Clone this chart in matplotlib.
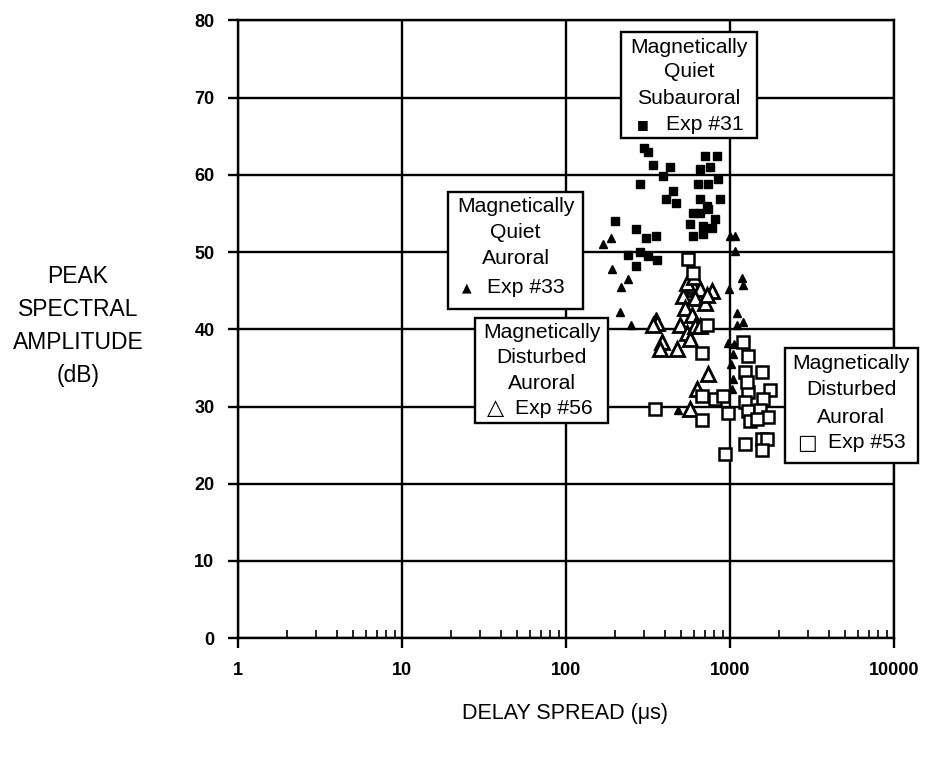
import numpy as np
import matplotlib.pyplot as plt
from matplotlib.patches import Rectangle
from matplotlib.ticker import LogLocator, FixedLocator, NullFormatter

plt.rcParams['font.family'] = ['Liberation Sans', 'DejaVu Sans']

# Exp #31 - magnetically quiet subauroral (filled squares)
x31 = [316, 339, 431, 390, 283, 449, 407, 469, 199, 267, 307, 354, 239, 283, 316,
       267, 360, 704, 834, 656, 755, 845, 638, 734, 869, 656, 720, 595, 656, 734,
       810, 570, 684, 777, 595, 684, 300]
y31 = [62.9, 61.3, 61.0, 59.9, 58.8, 57.9, 56.9, 56.4, 54.0, 53.0, 51.8, 52.1, 49.6, 50.0, 49.5,
       48.2, 49.0, 62.5, 62.5, 60.8, 61.0, 59.4, 58.8, 58.8, 56.9, 56.9, 56.0, 55.1, 55.1, 55.6,
       54.3, 53.6, 53.4, 53.1, 52.1, 52.3, 63.5]

# Exp #33 - magnetically quiet auroral (filled triangles)
x33 = [168, 188, 191, 216, 239, 213, 249, 354, 482, 1000, 1072, 1072, 986, 1183, 1200,
       1104, 1200, 1104, 972, 1058, 1043, 1043, 1029, 1014]
y33 = [51.0, 51.8, 47.8, 45.5, 46.5, 42.2, 40.6, 41.7, 29.6, 52.1, 52.1, 50.1, 45.2, 46.6, 45.7,
       42.1, 41.0, 40.6, 38.2, 38.1, 36.8, 33.6, 32.3, 35.5]

# Exp #56 - magnetically disturbed auroral (open triangles)
x56 = [359, 339, 385, 374, 475, 554, 595, 656, 777, 517, 612, 704, 532, 587, 496,
       547, 612, 656, 570, 734, 629, 570, 547, 600, 724]
y56 = [40.8, 40.6, 38.4, 37.5, 37.4, 45.2, 45.6, 45.2, 44.9, 44.3, 44.0, 43.4, 42.7, 41.9, 40.6,
       39.5, 40.4, 40.4, 38.8, 34.2, 32.3, 29.7, 46.0, 46.8, 44.5]

# Exp #53 - magnetically disturbed auroral (open squares)
x53 = [554, 595, 724, 675, 1200, 1288, 1233, 1567, 1754, 1288, 1589, 1233, 675, 810, 906,
       349, 972, 1288, 1524, 1706, 1324, 1461, 675, 933, 1233, 1567, 1681, 1567, 1271]
y53 = [49.1, 47.3, 40.6, 36.9, 38.4, 36.5, 34.5, 34.5, 32.2, 31.9, 31.0, 30.6, 31.3, 31.0, 31.3,
       29.7, 29.1, 29.4, 29.6, 28.7, 28.1, 28.4, 28.2, 23.9, 25.1, 25.8, 25.8, 24.4, 33.2]

x_ticks = [1, 10, 100, 1000, 10000]
x_tick_labels = ['1', '10', '100', '1000', '10000']
y_ticks = [0, 10, 20, 30, 40, 50, 60, 70, 80]

fig = plt.figure(figsize=(9.25, 7.57), dpi=100)
ax = fig.add_axes([0.2573, 0.157, 0.7092, 0.816])

ax.set_xscale('log')
ax.set_xlim(1, 10000)
ax.set_ylim(0, 80)

ax.xaxis.set_major_locator(FixedLocator(x_ticks))
ax.set_xticklabels(x_tick_labels)
ax.xaxis.set_minor_locator(LogLocator(base=10, subs=np.arange(2, 10)))
ax.xaxis.set_minor_formatter(NullFormatter())
ax.set_yticks(y_ticks)

ax.grid(True, which='major', color='black', linewidth=1.7)
ax.set_axisbelow(True)
for s in ax.spines.values():
    s.set_linewidth(1.7)

ax.tick_params(which='major', direction='out', length=7, width=1.7,
               labelsize=13, pad=10)
ax.tick_params(which='minor', direction='in', length=6, width=1.2,
               top=False)
for lab in ax.get_xticklabels() + ax.get_yticklabels():
    lab.set_fontweight('bold')

# points
ax.plot(x31, y31, 's', color='black', markersize=5.5, linestyle='none', zorder=3)
ax.plot(x33, y33, '^', color='black', markersize=5.5, linestyle='none', zorder=3)
ax.plot(x56, y56, '^', markerfacecolor='white', markeredgecolor='black',
        markersize=10, markeredgewidth=2, linestyle='none', zorder=3)
ax.plot(x53, y53, 's', markerfacecolor='white', markeredgecolor='black',
        markersize=8.5, markeredgewidth=1.8, linestyle='none', zorder=3)

# annotation boxes (axes fractions)
boxes = [
    # left, bottom, right, top, centre, line ys, lines, marker, marker x, marker size, label x, label
    (0.584, 0.810, 0.791, 0.981, 0.6875, [0.957, 0.917, 0.874, 0.831],
     ['Magnetically', 'Quiet', 'Subauroral'], '■', 0.617, 9, 0.652, 'Exp #31'),
    (0.320, 0.533, 0.526, 0.722, 0.423, [0.698, 0.657, 0.615, 0.567],
     ['Magnetically', 'Quiet', 'Auroral'], '▲', 0.349, 9, 0.379, 'Exp #33'),
    (0.361, 0.348, 0.564, 0.518, 0.4627, [0.4955, 0.455, 0.413, 0.3725],
     ['Magnetically', 'Disturbed', 'Auroral'], '△', 0.392, 16, 0.423, 'Exp #56'),
    (0.834, 0.283, 1.037, 0.470, 0.935, [0.445, 0.402, 0.358, 0.316],
     ['Magnetically', 'Disturbed', 'Auroral'], '□', 0.867, 15, 0.900, 'Exp #53'),
]
for (l, b, r, t, cx, ys, lines, mk, mx, ms, lx, lab) in boxes:
    ax.add_patch(Rectangle((l, b), r - l, t - b, transform=ax.transAxes,
                           facecolor='white', edgecolor='black', linewidth=1.7,
                           zorder=5, clip_on=False))
    for yy, txt in zip(ys[:3], lines):
        ax.text(cx, yy, txt, transform=ax.transAxes, ha='center', va='center',
                fontsize=15.2, zorder=6, clip_on=False)
    ax.text(mx, ys[3], mk, transform=ax.transAxes, ha='center', va='center',
            fontsize=ms, zorder=6, family=['DejaVu Sans'], clip_on=False)
    ax.text(lx, ys[3], lab, transform=ax.transAxes, ha='left', va='center',
            fontsize=15.2, zorder=6, clip_on=False)

fig.text(0.0843, 0.569, 'PEAK\nSPECTRAL\nAMPLITUDE\n(dB)', ha='center', va='center',
         fontsize=16.5, linespacing=1.55)
fig.text(0.611, 0.058, 'DELAY SPREAD (μs)', ha='center', va='center', fontsize=15.5)

fig.savefig('out.png', dpi=100)
